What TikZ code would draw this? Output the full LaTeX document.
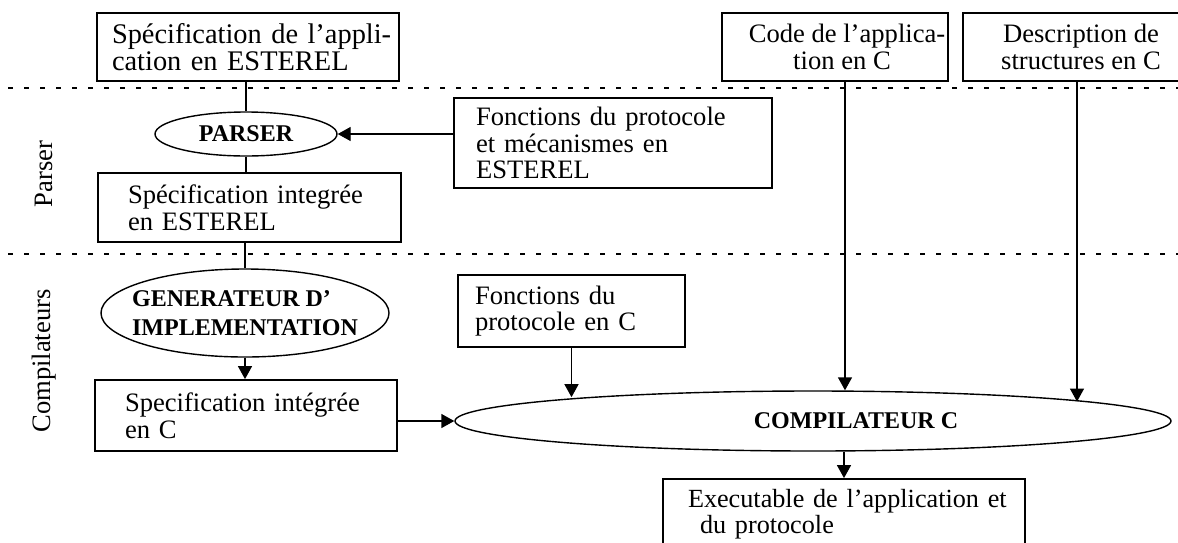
\documentclass[tikz,border=0pt]{standalone}
\usepackage{fontspec}
\setmainfont{Liberation Serif}
\usetikzlibrary{arrows.meta,shapes.geometric}
\begin{document}
\begin{tikzpicture}[x=0.5pt,y=-0.5pt,
  box/.style={draw, rectangle, line width=0.9pt, inner ysep=0pt, align=left,
    font=\fontsize{13.3}{13.3}\selectfont},
  cbox/.style={draw, rectangle, line width=0.9pt, inner sep=0pt, align=center,
    font=\fontsize{13.3}{13.3}\selectfont},
  oval/.style={draw, ellipse, line width=0.7pt, inner sep=0pt},
  bfont/.style={font=\fontsize{12}{14.5}\selectfont\bfseries},
  link/.style={line width=0.7pt},
  arr/.style={line width=0.7pt, -{Triangle[length=6.5pt,width=7pt]}},
  sepline/.style={line width=0.6pt, dash pattern=on 2.3pt off 5.7pt},
  side/.style={rotate=90, inner sep=0pt, font=\fontsize{13.3}{13.3}\selectfont}
]
\useasboundingbox (0,0) rectangle (1178,542);
\clip (0,0) rectangle (1178,542);

% lane separators
\draw[sepline] (8,88) -- (1178,88);
\draw[sepline] (8,254) -- (1178,254);

% lane labels
\node[side] (lparser) at (44,174) {Parser};
\node[side] (lcomp) at (44,361) {Compilateurs};

% boxes
\node[box, font=\fontsize{14.2}{13.6}\selectfont, text width=136pt, inner xsep=7.5pt, minimum height=34pt] (b1) at (248,47)
  {\mbox{Spécification de l’appli-}\\cation en ESTEREL};
\node[box, text width=137pt, inner xsep=11pt, minimum height=45pt] (fp) at (613,143)
  {Fonctions du protocole\\et mécanismes en\\ESTEREL};
\node[box, text width=121.5pt, inner xsep=15pt, minimum height=34.5pt] (b2) at (249.5,207.5)
  {\mbox{Spécification integrée}\\en ESTEREL};
\node[box, text width=121pt, inner xsep=15pt, minimum height=35.5pt] (b3) at (246,415.5)
  {\mbox{Specification intégrée}\\en C};
\node[box, text width=96.5pt, inner xsep=8.5pt, minimum height=36pt] (fc) at (571.5,311)
  {Fonctions du\\protocole en C};
\node[cbox, minimum width=113pt, minimum height=34pt] (code) at (835,47)
  {\hspace*{12pt}Code de l’applica-\\\hspace*{7pt}tion en C};
\node[cbox, minimum width=118pt, minimum height=34pt] (desc) at (1081,47)
  {Description de\\structures en C};
\node[box, font=\fontsize{13.1}{13.1}\selectfont, text width=156pt, inner xsep=12.5pt, minimum height=35.5pt] (exe) at (844,514.5)
  {\mbox{Executable de l’application et}\\\hspace*{6pt}du protocole};

% ellipses
\node[oval, bfont, minimum width=91pt, minimum height=22pt] (parser) at (246,134) {PARSER};
\node[oval, minimum width=144pt, minimum height=44pt,
  label={[bfont, align=left]center:{GENERATEUR D’\\IMPLEMENTATION}}] (gen) at (245,313) {};
\node[oval, minimum width=358pt, minimum height=30pt,
  label={[bfont, xshift=21.5pt]center:{COMPILATEUR C}}] (comp) at (813,421) {};

% helper coordinates
\coordinate (codeout) at ([xshift=5pt]code.south);
\coordinate (descout) at ([xshift=-2pt]desc.south);

% connectors
\draw[link] (b1.south -| parser.north) -- (parser.north);
\draw[arr] (fp.west |- parser.east) -- (parser.east);
\draw[link] (parser.south) -- (parser.south |- b2.north);
\draw[link] (b2.south -| gen.north) -- (gen.north);
\draw[arr] (gen.south) -- (gen.south |- b3.north);
\draw[arr] (b3.east |- comp.west) -- (comp.west);
\draw[arr] (fc.south) -- (fc.south |- comp.174.7);
\draw[arr] (codeout) -- (codeout |- comp.north);
\draw[arr] (descout) -- (descout |- comp.4.4);
\draw[arr] (exe.north |- comp.south) -- (exe.north);
\end{tikzpicture}
\end{document}
